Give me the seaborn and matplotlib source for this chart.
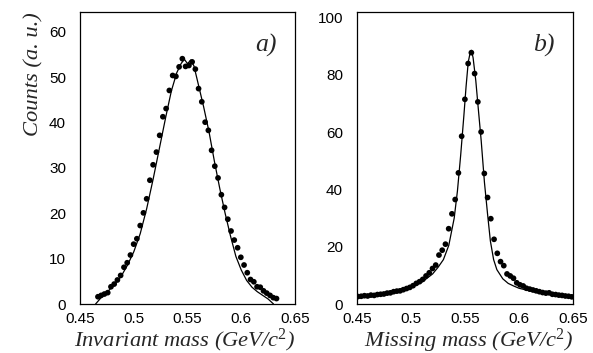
import numpy as np
import pandas as pd
import matplotlib
matplotlib.use("Agg")
import matplotlib.pyplot as plt
from matplotlib.ticker import MultipleLocator
import seaborn as sns

# ---------------- data ----------------
# panel a) invariant mass: data points
inv_x = [0.4667, 0.4697, 0.4727, 0.4758, 0.4788, 0.4818, 0.4848, 0.4878, 0.4909, 0.4939,
         0.4969, 0.4999, 0.5029, 0.5060, 0.5090, 0.5120, 0.5150, 0.5180, 0.5211, 0.5241,
         0.5271, 0.5301, 0.5331, 0.5362, 0.5392, 0.5422, 0.5452, 0.5482, 0.5513, 0.5543,
         0.5573, 0.5603, 0.5633, 0.5664, 0.5694, 0.5724, 0.5754, 0.5784, 0.5815, 0.5845,
         0.5875, 0.5905, 0.5935, 0.5966, 0.5996, 0.6026, 0.6056, 0.6086, 0.6117, 0.6147,
         0.6177, 0.6207, 0.6237, 0.6268, 0.6298, 0.6328]
inv_y = [1.6, 1.9, 2.2, 2.5, 3.8, 4.4, 5.3, 6.3, 8.1, 9.1,
         10.8, 13.2, 14.4, 17.3, 20.1, 23.2, 27.3, 30.7, 33.5, 37.2,
         41.3, 43.1, 47.1, 50.4, 50.2, 52.3, 54.1, 52.4, 52.6, 53.4,
         51.8, 47.5, 44.6, 40.1, 38.3, 33.9, 30.4, 27.8, 24.1, 21.3,
         18.7, 16.1, 14.1, 12.4, 10.3, 8.6, 6.9, 5.4, 4.9, 3.8,
         3.7, 2.9, 2.4, 1.9, 1.4, 1.2]
# panel a) simulation curve
inv_line_x = [0.4645, 0.4700, 0.4760, 0.4820, 0.4880, 0.4940, 0.5000, 0.5060, 0.5120, 0.5180,
              0.5240, 0.5300, 0.5350, 0.5400, 0.5440, 0.5470, 0.5500, 0.5530, 0.5560, 0.5600,
              0.5650, 0.5700, 0.5750, 0.5800, 0.5850, 0.5900, 0.5950, 0.6000, 0.6050, 0.6100,
              0.6150, 0.6200, 0.6250, 0.6300]
inv_line_y = [0.0, 1.5, 2.8, 4.3, 6.0, 8.5, 11.5, 15.5, 21.0, 27.5,
              34.5, 41.5, 47.0, 51.0, 53.0, 54.0, 53.0, 53.8, 52.5, 48.5,
              43.5, 38.0, 31.5, 25.5, 20.0, 15.0, 10.5, 7.5, 5.2, 3.7,
              2.7, 1.9, 1.1, 0.0]

# panel b) missing mass: data points
mis_x = [0.4509, 0.4539, 0.4569, 0.4599, 0.4629, 0.4659, 0.4689, 0.4719, 0.4749, 0.4779,
         0.4809, 0.4839, 0.4869, 0.4899, 0.4929, 0.4959, 0.4989, 0.5019, 0.5049, 0.5079,
         0.5109, 0.5139, 0.5169, 0.5199, 0.5229, 0.5259, 0.5289, 0.5319, 0.5349, 0.5379,
         0.5409, 0.5439, 0.5469, 0.5499, 0.5529, 0.5559, 0.5589, 0.5619, 0.5649, 0.5679,
         0.5709, 0.5739, 0.5769, 0.5799, 0.5829, 0.5859, 0.5889, 0.5919, 0.5949, 0.5979,
         0.6009, 0.6039, 0.6069, 0.6099, 0.6129, 0.6159, 0.6189, 0.6219, 0.6249, 0.6279,
         0.6309, 0.6339, 0.6369, 0.6399, 0.6429, 0.6459, 0.6489]
mis_y = [2.6, 2.7, 2.9, 2.8, 3.1, 3.0, 3.3, 3.4, 3.5, 3.8,
         3.9, 4.3, 4.5, 4.6, 5.0, 5.4, 5.8, 6.4, 7.2, 7.8,
         8.6, 9.8, 10.9, 12.4, 13.6, 17.1, 18.8, 20.9, 26.3, 31.5,
         36.5, 45.8, 58.6, 71.5, 84.0, 87.8, 80.5, 70.6, 60.1, 45.6,
         37.2, 29.8, 22.6, 17.7, 14.8, 13.4, 10.5, 9.8, 9.0, 7.4,
         6.7, 6.3, 5.5, 5.2, 4.9, 4.6, 4.3, 4.0, 3.8, 3.9,
         3.4, 3.3, 3.1, 3.0, 2.8, 2.7, 2.5]
# panel b) simulation curve
mis_line_x = [0.4500, 0.4600, 0.4700, 0.4800, 0.4900, 0.5000, 0.5100, 0.5200, 0.5250, 0.5300,
              0.5350, 0.5400, 0.5430, 0.5460, 0.5490, 0.5510, 0.5530, 0.5550, 0.5560, 0.5575,
              0.5600, 0.5620, 0.5650, 0.5680, 0.5710, 0.5735, 0.5765, 0.5795, 0.5850, 0.5900,
              0.5950, 0.6000, 0.6100, 0.6200, 0.6300, 0.6400, 0.6500]
mis_line_y = [2.5, 3.0, 3.5, 4.1, 4.8, 5.9, 7.6, 10.5, 12.8, 15.5,
              20.5, 30.0, 39.5, 52.0, 66.0, 76.0, 84.5, 88.2, 88.6, 86.0,
              78.0, 69.5, 57.0, 42.5, 31.0, 22.0, 15.5, 12.0, 8.8, 7.2,
              6.3, 5.5, 4.6, 3.8, 3.3, 2.8, 2.4]

x_ticks = [0.45, 0.5, 0.55, 0.6, 0.65]
x_ticklabels = ["0.45", "0.5", "0.55", "0.6", "0.65"]
ylabel_text = "Counts (a. u.)"
xlabel_a = "Invariant mass (GeV/c$^{\\mathit{2}}$)"
xlabel_b = "Missing mass (GeV/c$^{\\mathit{2}}$)"
panel_labels = ["a)", "b)"]

# ---------------- style ----------------
sns.set_style("white")
plt.rcParams["font.family"] = ["Liberation Sans", "DejaVu Sans"]
plt.rcParams["mathtext.fontset"] = "custom"
plt.rcParams["mathtext.rm"] = "Liberation Serif"
plt.rcParams["mathtext.it"] = "Liberation Serif:italic"

W, H = 593, 353
fig = plt.figure(figsize=(W / 100, H / 100), dpi=100)

def px_axes(x0, x1, y0, y1):
    return fig.add_axes([x0 / W, 1 - y1 / H, (x1 - x0) / W, (y1 - y0) / H])

ax_a = px_axes(80, 295, 12, 304)
ax_b = px_axes(357, 573, 12, 304)

dfa = pd.DataFrame({"x": inv_x, "y": inv_y})
dfa_line = pd.DataFrame({"x": inv_line_x, "y": inv_line_y})
dfb = pd.DataFrame({"x": mis_x, "y": mis_y})
dfb_line = pd.DataFrame({"x": mis_line_x, "y": mis_line_y})

for ax, dpts, dline in [(ax_a, dfa, dfa_line), (ax_b, dfb, dfb_line)]:
    sns.lineplot(data=dline, x="x", y="y", ax=ax, color="black", lw=0.9,
                 estimator=None, sort=False)
    sns.scatterplot(data=dpts, x="x", y="y", ax=ax, color="black", s=17,
                    edgecolor="none", linewidth=0, zorder=3)

serif_it = dict(family=["Liberation Serif", "DejaVu Serif"], style="italic")

for ax, ylim, major, minor, lab, xl in [
    (ax_a, 64.4, 10, 2, panel_labels[0], xlabel_a),
    (ax_b, 102, 20, 5, panel_labels[1], xlabel_b),
]:
    ax.set_xlim(0.45, 0.65)
    ax.set_ylim(0, ylim)
    ax.set_xticks(x_ticks)
    ax.set_xticklabels(x_ticklabels)
    ax.xaxis.set_minor_locator(MultipleLocator(0.01))
    ax.yaxis.set_major_locator(MultipleLocator(major))
    ax.yaxis.set_minor_locator(MultipleLocator(minor))
    ax.tick_params(axis="both", which="both", direction="in", top=False, right=False,
                   colors="black", labelsize=11)
    ax.tick_params(axis="y", which="major", length=8, width=1.0, pad=10)
    ax.tick_params(axis="y", which="minor", length=4, width=1.0)
    ax.tick_params(axis="x", which="major", length=7.5, width=1.0, pad=6)
    ax.tick_params(axis="x", which="minor", length=4, width=1.0)
    for sp in ax.spines.values():
        sp.set_color("black")
        sp.set_linewidth(0.9)
    ax.set_xlabel(xl, loc="right", fontsize=16.2, labelpad=0, **serif_it)
    ax.set_ylabel("")
    ax.text(0.915, 0.885, lab, transform=ax.transAxes, ha="right", va="center",
            fontsize=18.5, **serif_it)

ax_a.set_ylabel(ylabel_text, loc="top", fontsize=16.2, labelpad=4, **serif_it)

fig.savefig("out.png", dpi=100)
